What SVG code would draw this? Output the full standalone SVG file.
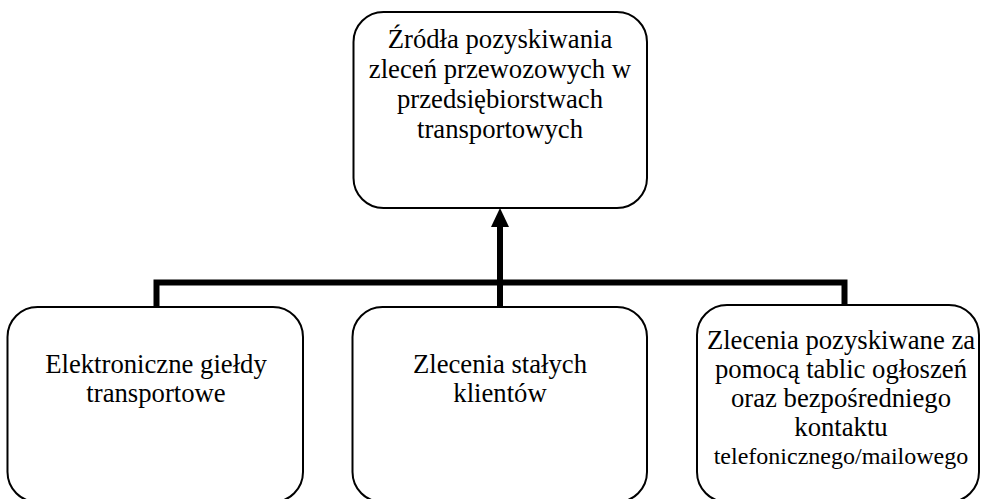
<svg xmlns="http://www.w3.org/2000/svg" width="981" height="499" viewBox="0 0 981 499">
<style>
.box{fill:#fff;stroke:#000;stroke-width:2}
.c{fill:none;stroke:#000;stroke-width:6}
</style>
<g id="connectors">
<polyline class="c" points="156.5,307 156.5,282.5 844.5,282.5 844.5,306"/>
<line class="c" x1="500" y1="307" x2="500" y2="226"/>
<path d="M491,227 L500,208 L509,227 Z" fill="#000"/>
</g>
<g font-family="'Liberation Serif', 'Times New Roman', serif" font-size="26.7" text-anchor="middle" fill="#000">
<g id="top">
<rect class="box" x="353.5" y="12" width="293.5" height="196" rx="30"/>
<text x="500" y="48">Źródła pozyskiwania</text>
<text x="500" y="78">zleceń przewozowych w</text>
<text x="500" y="108">przedsiębiorstwach</text>
<text x="500" y="138">transportowych</text>
</g>
<g id="left">
<rect class="box" x="7.5" y="307" width="295.5" height="195" rx="30"/>
<text x="156" y="373">Elektroniczne giełdy</text>
<text x="156" y="402">transportowe</text>
</g>
<g id="middle">
<rect class="box" x="352.5" y="307" width="294.5" height="195" rx="30"/>
<text x="500" y="373">Zlecenia stałych</text>
<text x="500" y="402">klientów</text>
</g>
<g id="right">
<rect class="box" x="697" y="305" width="282" height="197" rx="30"/>
<text x="841" y="349">Zlecenia pozyskiwane za</text>
<text x="841" y="378">pomocą tablic ogłoszeń</text>
<text x="841" y="407">oraz bezpośredniego</text>
<text x="841" y="436">kontaktu</text>
<text x="841" y="464" font-size="24">telefonicznego/mailowego</text>
</g>
</g>
</svg>
